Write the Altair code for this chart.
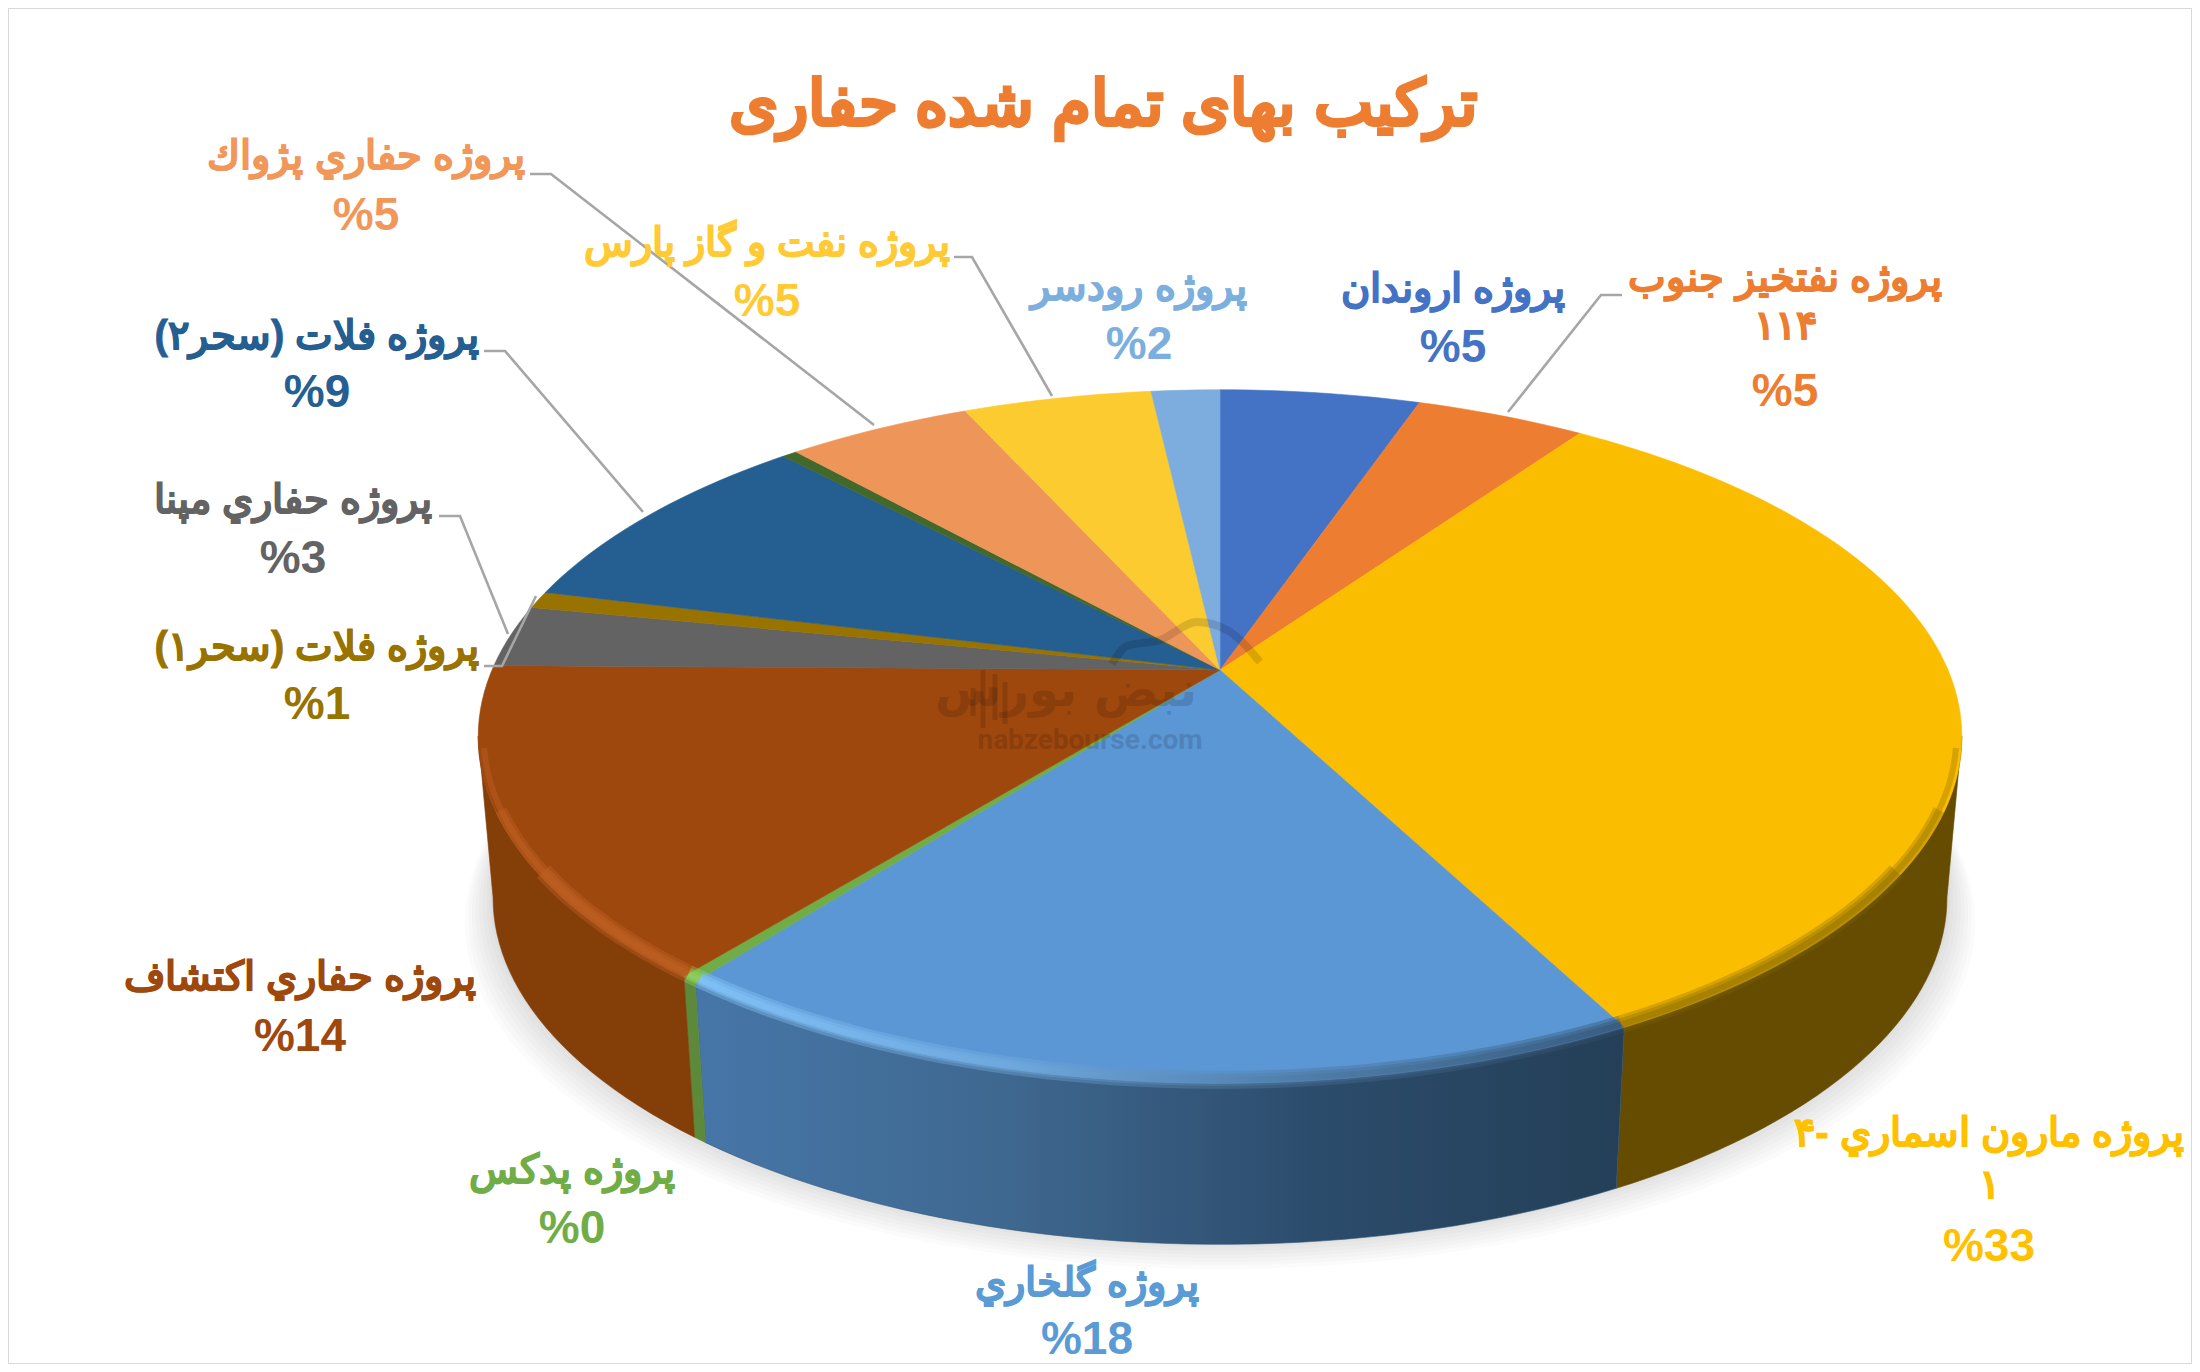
import math
import altair as alt
import pandas as pd

# ---- data ----
names = ["پروژه اروندان", "پروژه نفتخیز جنوب ۱۱۴", "پروژه مارون اسماری -۴ ۱", "پروژه گلخاری", "پروژه پدکس",
         "پروژه حفاری اکتشاف", "پروژه حفاری مپنا", "پروژه فلات (سحر ۱)", "پروژه فلات (سحر۲)", "(بی نام)",
         "پروژه حفاری پژواک", "پروژه نفت و گاز پارس", "پروژه رودسر"]
shares = [5.25, 4.45, 32.7, 18.1, 0.3, 14.45, 2.9, 0.8, 9.1, 0.4, 4.85, 4.95, 1.8]
top_colors = ["#4472c4", "#ed7d31", "#fbbd00", "#5b97d5", "#70ad47", "#9e480e", "#636363", "#997300",
              "#255e91", "#43682b", "#ee955a", "#fccb30", "#7cadde"]
title_text = "ترکیب بهای  تمام شده حفاری"

label_lines = [
    ["پروژه حفاري پژواك", "%5"], ["پروژه نفت و گاز پارس", "%5"], ["پروژه رودسر", "%2"], ["پروژه اروندان", "%5"],
    ["پروژه نفتخيز جنوب", "۱۱۴", "%5"], ["پروژه فلات (سحر۲)", "%9"], ["پروژه حفاري مپنا", "%3"],
    ["پروژه فلات (سحر۱)", "%1"], ["پروژه حفاري اكتشاف", "%14"], ["پروژه پدكس", "%0"], ["پروژه گلخاري", "%18"],
    ["پروژه مارون اسماري -۴", "۱", "%33"],
]
label_colors = ["#f1975a", "#ffca33", "#7cafdd", "#4472c4", "#ed7d31", "#255e91", "#636363", "#997300",
                "#9e480e", "#70ad47", "#5b9bd5", "#ffc000"]

# ---- layout (reference pixels) ----
label_x = [366, 767, 1139, 1453, 1785, 317, 293, 317, 300, 572, 1087, 1989]
label_y = [[157, 216], [244, 302], [288, 345], [290, 348], [279, 327, 392], [337, 393], [501, 559], [648, 705],
           [978, 1037], [1171, 1229], [1284, 1340], [1134, 1186, 1247]]
leaders = [
    [(530, 174), (551, 174), (874, 425)],
    [(954, 257), (972, 257), (1052, 396)],
    [(1622, 295), (1601, 295), (1508, 412)],
    [(484, 351), (505, 351), (643, 512)],
    [(439, 516), (460, 516), (508, 634)],
    [(484, 666), (502, 666), (536, 596)],
]
candles = [(973, 688, 716), (983, 670, 728), (995, 674, 720), (1005, 682, 724)]
APEX = (1220, 670)
A, B, C = 728, 0.192, 334
DEPTH, SHRINK = 161, 0.98
VIS0, VIS1 = 101, 259   # angle range where the side wall is visible


def project(theta, depth=0.0, shrink=1.0, inset=1.0):
    t = math.radians(theta)
    X, Y = math.sin(t) * inset, math.cos(t) * inset
    d = 1 + B * Y
    return APEX[0] + A * shrink * X / d, APEX[1] - C * Y / d + depth


xs = alt.X("x:Q", axis=None, scale=alt.Scale(domain=[8, 2192], nice=False, zero=False))
ys = alt.Y("y:Q", axis=None, scale=alt.Scale(domain=[1364, 8], nice=False, zero=False))


def shape(points, **mark):
    df = pd.DataFrame({"x": [p[0] for p in points], "y": [p[1] for p in points], "o": list(range(len(points)))})
    return alt.Chart(df).mark_line(clip=False, **mark).encode(x=xs, y=ys, order="o:Q")


def grad(*cols):
    n = len(cols) - 1
    return alt.Gradient(gradient="linear", x1=0, x2=1, y1=0, y2=0,
                        stops=[alt.GradientStop(color=c, offset=i / n) for i, c in enumerate(cols)])


def arc_pts(t0, t1, **kw):
    n = max(2, int(abs(t1 - t0) / 1.5) + 2)
    return [project(t0 + (t1 - t0) * i / (n - 1), **kw) for i in range(n)]


total = sum(shares)
edges = [0.0]
for s in shares:
    edges.append(edges[-1] + s / total * 360)

layers = []

# soft shadow under the pie
for k, off in enumerate([48, 42, 36, 30, 24, 18, 12, 6]):
    pts = [project(t, depth=DEPTH + off * 0.6 - 4, shrink=SHRINK + off * 0.0008) for t in range(0, 360, 3)]
    layers.append(shape(pts, interpolate="linear-closed", fill="#000000", fillOpacity=0.014 + 0.0006 * k, strokeWidth=0, stroke="#000000", strokeOpacity=0))

# side walls
wall_fill = {2: "#654c00", 3: grad("#4676a8", "#3f6890", "#2c4c6c", "#243f57"), 4: "#5d8a3a", 5: "#843e08"}
for i, f in wall_fill.items():
    a, b = max(edges[i], VIS0), min(edges[i + 1], VIS1)
    pts = arc_pts(a, b) + arc_pts(b, a, depth=DEPTH, shrink=SHRINK)
    stroke = f if isinstance(f, str) else "#34587a"
    layers.append(shape(pts, interpolate="linear-closed", fill=f, stroke=stroke, strokeWidth=0.6))

# top face
for i, col in enumerate(top_colors):
    pts = [APEX] + arc_pts(edges[i], edges[i + 1])
    layers.append(shape(pts, interpolate="linear-closed", fill=col, stroke=col, strokeWidth=0.6))

# soft bevel on the front rim: wider strokes stop earlier so the band tapers towards the sides
rim = {2: ("#7d6200", 0.3), 3: (grad("#8accff", "#74aee0", "#4a7398", "#2f4c68"), 0.38), 4: ("#96d860", 0.36), 5: ("#c8662a", 0.34)}
for i, (col, op) in rim.items():
    for w, trim in ((18, 22), (12, 12), (6, 2)):
        a = max(edges[i], VIS0 + trim) if i == 2 else edges[i]
        b = min(edges[i + 1], VIS1 - trim) if i == 5 else edges[i + 1]
        pts = arc_pts(a, b, inset=0.993)
        layers.append(shape(pts, stroke=col, strokeWidth=w, strokeOpacity=op, fillOpacity=0, strokeCap="butt"))

# leader lines
for pts in leaders:
    layers.append(shape(pts, stroke="#a6a6a6", strokeWidth=2.6, fillOpacity=0))

# watermark
wm = [(1112, 664), (1127, 646), (1160, 640), (1197, 622), (1227, 630), (1260, 662)]
layers.append(shape(wm, stroke="#000000", strokeOpacity=0.13, strokeWidth=8, fillOpacity=0, interpolate="monotone"))
for cx, y0, y1 in candles:
    layers.append(shape([(cx, y0), (cx, y1)], stroke="#000000", strokeOpacity=0.13, strokeWidth=5, fillOpacity=0))
layers.append(alt.Chart(pd.DataFrame({"x": [1066], "y": [692], "t": ["نبض بورس"]})).mark_text(
    font="DejaVu Sans", fontWeight="bold", fontSize=48, fill="#000000", opacity=0.13, align="center", baseline="middle"
).encode(x=xs, y=ys, text="t:N"))
layers.append(alt.Chart(pd.DataFrame({"x": [1090], "y": [741], "t": ["nabzebourse.com"]})).mark_text(
    font="Roboto", fontWeight="bold", fontSize=28, fill="#000000", opacity=0.13, align="center", baseline="middle"
).encode(x=xs, y=ys, text="t:N"))

# labels
name_rows, pct_rows = [], []
for lines, x, yy, col in zip(label_lines, label_x, label_y, label_colors):
    for j, (ln, y) in enumerate(zip(lines, yy)):
        row = {"x": x, "y": y, "t": ln, "c": col}
        (pct_rows if ln.startswith("%") else name_rows).append(row)

layers.append(alt.Chart(pd.DataFrame(name_rows)).mark_text(
    font="Liberation Sans", fontWeight="bold", fontSize=40, strokeWidth=0.8, align="center", baseline="middle"
).encode(x=xs, y=ys, text="t:N", fill=alt.Fill("c:N", scale=None), stroke=alt.Stroke("c:N", scale=None)))
layers.append(alt.Chart(pd.DataFrame(pct_rows)).mark_text(
    font="Liberation Sans", fontWeight="bold", fontSize=46, align="center", baseline="middle"
).encode(x=xs, y=ys, text="t:N", fill=alt.Fill("c:N", scale=None)))

# title
layers.append(alt.Chart(pd.DataFrame({"x": [1103], "y": [106], "t": [title_text]})).mark_text(
    font="Liberation Sans", fontWeight="bold", fontSize=63, fill="#ed7d31", stroke="#ed7d31", strokeWidth=2.2, align="center", baseline="middle"
).encode(x=xs, y=ys, text="t:N"))

chart = alt.layer(*layers).properties(width=2184, height=1356, padding=0, background="white").configure_view(
    stroke="#d9d9d9", strokeWidth=2)
chart.save("out.html", embed_options={"renderer": "svg", "actions": False})
